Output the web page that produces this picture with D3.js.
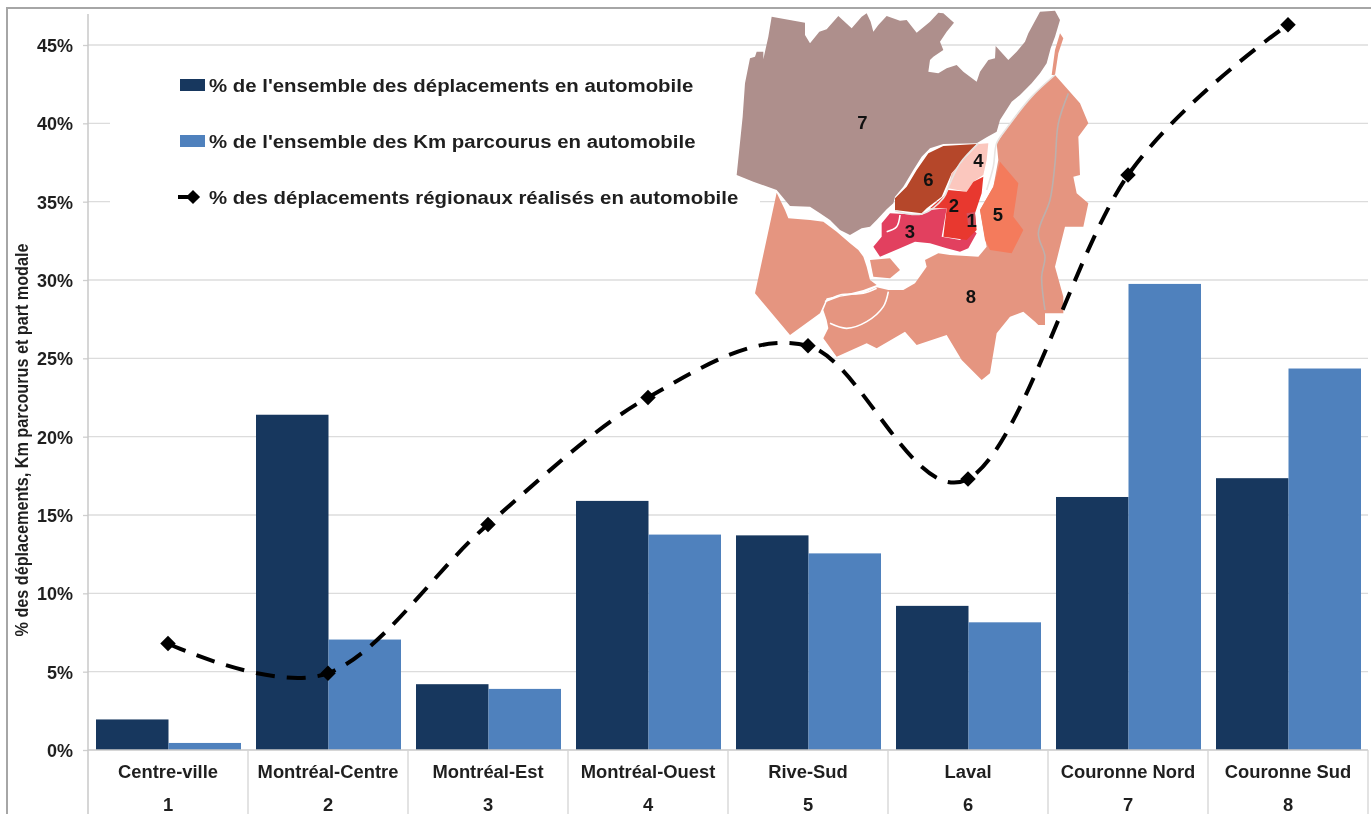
<!DOCTYPE html>
<html>
<head>
<meta charset="utf-8">
<script src="https://cdn.jsdelivr.net/npm/d3@7"></script>
<style>
body { margin: 0; background: #fff; }
svg { display: block; filter: blur(0.45px); }
text { font-family: "Liberation Sans", Arial, sans-serif; font-weight: bold; fill: #1f1f1f; }
</style>
</head>
<body>
<script>
var categories = ['Centre-ville', 'Montréal-Centre', 'Montréal-Est', 'Montréal-Ouest', 'Rive-Sud', 'Laval', 'Couronne Nord', 'Couronne Sud'];
var numbers = ['1', '2', '3', '4', '5', '6', '7', '8'];
var deplacements = [1.95, 21.4, 4.2, 15.9, 13.7, 9.2, 16.15, 17.35];
var kmParcourus = [0.45, 7.05, 3.9, 13.75, 12.55, 8.15, 29.75, 24.35];
var partRegionale = [6.8, 4.9, 14.4, 22.5, 25.8, 17.3, 36.7, 46.3];
var yTicks = [0, 5, 10, 15, 20, 25, 30, 35, 40, 45];
var legendLabels = ["% de l'ensemble des déplacements en automobile", "% de l'ensemble des Km parcourus en automobile", '% des déplacements régionaux réalisés en automobile'];

// map outlines, in map units
var region7 = [[125,50],[225,68],[225,105],[240,130],[268,95],[290,88],[325,48],[365,85],[395,50],[410,40],[422,65],[430,95],[445,75],[470,48],[510,62],[530,60],[560,98],[600,65],[625,38],[640,40],[672,68],[650,95],[630,125],[640,150],[610,170],[600,180],[595,215],[625,220],[650,205],[680,195],[700,215],[740,245],[750,215],[775,180],[795,175],[797,138],[835,180],[860,155],[885,125],[895,100],[930,35],[975,32],[990,60],[975,110],[962,145],[950,190],[930,220],[905,250],[870,285],[845,305],[810,360],[800,395],[770,412],[740,430],[640,432],[600,445],[575,470],[550,510],[520,560],[495,590],[490,610],[470,628],[440,660],[420,680],[395,685],[360,705],[330,690],[300,660],[270,640],[240,620],[180,618],[165,600],[140,570],[70,545],[20,525],[38,350],[45,250],[60,175],[75,170],[80,155],[100,155],[100,178],[115,110]];
var region8West = [[140,578],[165,630],[175,655],[240,660],[280,665],[320,695],[360,730],[385,750],[400,770],[410,800],[420,840],[440,855],[400,870],[340,885],[290,895],[270,940],[180,1005],[75,880]];
var region8Island = [[420,780],[480,775],[510,810],[480,835],[430,830]];
var region8South = [[975,225],[940,255],[905,290],[870,330],[830,385],[800,430],[805,480],[790,560],[750,630],[770,740],[745,770],[660,765],[625,760],[585,780],[590,800],[555,850],[520,870],[475,870],[440,862],[400,880],[330,890],[290,905],[280,930],[290,960],[295,985],[280,1015],[320,1070],[410,1030],[440,1045],[525,995],[560,1035],[650,1005],[695,1080],[755,1140],[780,1120],[800,1000],[840,950],[880,935],[915,965],[925,975],[945,975],[945,940],[1000,940],[1000,890],[975,800],[1005,680],[1060,680],[1075,610],[1040,580],[1030,530],[1050,525],[1045,410],[1075,370],[1050,310]];
var region8Strip = [[990,100],[1000,115],[985,160],[975,225],[965,225],[975,150]];
var region5 = [[810,485],[865,550],[850,650],[880,690],[845,760],[780,750],[765,720],[750,630],[790,560]];
var region6 = [[640,438],[740,432],[700,480],[665,520],[635,590],[590,625],[575,640],[495,630],[495,595],[530,560],[560,510],[595,460]];
var region4 = [[745,432],[775,430],[770,480],[760,525],[730,545],[710,575],[655,565],[665,520],[700,480]];
var region3 = [[480,640],[575,645],[600,630],[650,625],[635,710],[690,720],[730,690],[740,700],[715,745],[690,755],[650,745],[600,730],[555,725],[510,745],[450,770],[430,740],[455,710],[455,670]];
var region2 = [[655,570],[710,575],[730,545],[760,530],[755,580],[735,640],[740,690],[710,720],[640,710],[650,625],[600,625],[640,590]];
var region1 = [[710,640],[735,635],[738,680],[715,680]];
var riverEast = [[1015,280],[985,370],[975,490],[960,600],[925,700],[945,770],[935,830],[945,930]];
var riverSouth = [[300,970],[350,985],[410,965],[460,920],[475,875]];
var riverIsland = [[285,905],[330,885],[400,880],[440,865]];
var riverNorth = [[975,225],[905,290],[830,385],[800,430],[790,500],[770,570]];
var riverLaval = [[495,632],[575,642],[640,595],[660,550],[690,490],[745,430]];
var riverPerrot = [[510,645],[500,680],[470,695]];
var mapRegions = [region8West, region8Island, region8South, region8Strip, region7, region5, region6, region4, region3, region2, region1];
var mapColors = ['#e59580', '#e59580', '#e59580', '#e59580', '#ae8f8c', '#f47b5c', '#b5472a', '#fbc7be', '#e2405f', '#e8382f', '#d2535f'];
var mapRivers = [riverEast, riverSouth, riverIsland, riverNorth, riverLaval, riverPerrot];
var riverColors = ['#bdb0ac', '#fff', '#fff', '#e8e4e2', '#e8e4e2', '#fff'];
var mapLabels = [[725, 660, '1'], [672, 617, '2'], [540, 695, '3'], [745, 482, '4'], [804, 642, '5'], [595, 538, '6'], [397, 367, '7'], [723, 890, '8']];

var width = 1371,
    height = 814;

var svg = d3.select('body')
    .append('svg')
    .attr('width', width)
    .attr('height', height);

var x = d3.scaleBand()
    .domain(categories)
    .range([88, 1368]);

var xBar = d3.scaleBand()
    .domain([0, 1])
    .range([8, 153]);

var y = d3.scaleLinear()
    .domain([0, 45])
    .range([750, 45]);

// the source picture is stretched sideways a little, so text is too
function placeText(selection, sx, fx, fy) {
    selection.attr('transform', function(d, i) {
        return 'translate(' + fx(d, i) + ',' + fy(d, i) + ') scale(' + sx + ',1)';
    });
}

// page frame
svg.append('path')
    .attr('d', 'M7,814V8H1371')
    .style('fill', 'none')
    .style('stroke', '#a6a6a6')
    .style('stroke-width', 2);

// gridlines
svg.append('g')
    .selectAll('line')
    .data(yTicks.slice(1))
    .enter()
    .append('line')
    .attr('x1', 88).attr('x2', 1368)
    .attr('y1', d => y(d)).attr('y2', d => y(d))
    .style('stroke', '#dcdcdc')
    .style('stroke-width', 1.3);

// legend box hides the grid behind it
svg.append('rect')
    .attr('x', 110).attr('y', 60)
    .attr('width', 650).attr('height', 155)
    .style('fill', '#fff');

var yAxis = svg.append('g')
    .attr('transform', 'translate(88,0)')
    .call(d3.axisLeft(y).tickValues(yTicks).tickFormat(d => d + '%').tickSize(5));

yAxis.select('.domain').remove();
yAxis.selectAll('line').style('stroke', '#cfcfcf').style('stroke-width', 1.3);
yAxis.selectAll('text')
    .attr('x', null)
    .attr('dy', null)
    .call(placeText, 1.03, () => -15, () => 6.5)
    .style('font-size', '17.5px')
    .style('font-family', null);

svg.append('line')
    .attr('x1', 88).attr('x2', 88)
    .attr('y1', 14).attr('y2', height)
    .style('stroke', '#c8c8c8')
    .style('stroke-width', 1.5);

// map, sits over the gridlines
var mapX = d3.scaleLinear().domain([0, 3]).range([730, 731]);
var mapY = d3.scaleLinear().domain([0, 3]).range([0, 1]);
var mapLine = d3.line().x(d => mapX(d[0])).y(d => mapY(d[1]));

var map = svg.append('g').attr('class', 'map');

map.selectAll('path.region')
    .data(mapRegions)
    .enter()
    .append('path')
    .attr('class', 'region')
    .attr('d', d => mapLine(d) + 'Z')
    .style('fill', (d, i) => mapColors[i]);

map.selectAll('path.river')
    .data(mapRivers)
    .enter()
    .append('path')
    .attr('class', 'river')
    .attr('d', d3.line().x(d => mapX(d[0])).y(d => mapY(d[1])).curve(d3.curveCatmullRom))
    .style('fill', 'none')
    .style('stroke', (d, i) => riverColors[i])
    .style('stroke-width', 1.6);

map.selectAll('text')
    .data(mapLabels)
    .enter()
    .append('text')
    .call(placeText, 1, d => mapX(d[0]), d => mapY(d[1]) + 6.5)
    .attr('text-anchor', 'middle')
    .style('font-size', '18.5px')
    .style('fill', '#111')
    .text(d => d[2]);

// bars
var groups = svg.append('g')
    .selectAll('g')
    .data(categories)
    .enter()
    .append('g')
    .attr('transform', d => 'translate(' + x(d) + ',0)');

groups.append('rect')
    .attr('x', xBar(0))
    .attr('width', xBar.bandwidth())
    .attr('y', (d, i) => y(deplacements[i]))
    .attr('height', (d, i) => y(0) - y(deplacements[i]))
    .style('fill', '#17375e');

groups.append('rect')
    .attr('x', xBar(1))
    .attr('width', xBar.bandwidth())
    .attr('y', (d, i) => y(kmParcourus[i]))
    .attr('height', (d, i) => y(0) - y(kmParcourus[i]))
    .style('fill', '#4f81bd');

// category axis, two rows
svg.append('line')
    .attr('x1', 88).attr('x2', 1368)
    .attr('y1', y(0)).attr('y2', y(0))
    .style('stroke', '#c8c8c8')
    .style('stroke-width', 1.5);

svg.append('g')
    .selectAll('line')
    .data(categories)
    .enter()
    .append('line')
    .attr('x1', d => x(d) + x.bandwidth())
    .attr('x2', d => x(d) + x.bandwidth())
    .attr('y1', y(0)).attr('y2', height)
    .style('stroke', '#d4d4d4')
    .style('stroke-width', 1.3);

svg.append('g')
    .selectAll('text')
    .data(categories)
    .enter()
    .append('text')
    .call(placeText, 1.05, d => x(d) + x.bandwidth() / 2, () => 778)
    .attr('text-anchor', 'middle')
    .style('font-size', '17.5px')
    .text(d => d);

svg.append('g')
    .selectAll('text')
    .data(categories)
    .enter()
    .append('text')
    .call(placeText, 1.05, d => x(d) + x.bandwidth() / 2, () => 810.5)
    .attr('text-anchor', 'middle')
    .style('font-size', '17.5px')
    .text((d, i) => numbers[i]);

// smoothed dashed line
var lineGen = d3.line()
    .x((d, i) => x(categories[i]) + x.bandwidth() / 2)
    .y(d => y(d))
    .curve(d3.curveCatmullRom.alpha(0));

svg.append('path')
    .datum(partRegionale)
    .attr('d', lineGen)
    .style('fill', 'none')
    .style('stroke', '#000')
    .style('stroke-width', 4)
    .style('stroke-dasharray', '19 12');

svg.append('g')
    .selectAll('path')
    .data(partRegionale)
    .enter()
    .append('path')
    .attr('d', d3.symbol(d3.symbolSquare, 120))
    .attr('transform', (d, i) => 'translate(' + (x(categories[i]) + x.bandwidth() / 2) + ',' + y(d) + ') rotate(45)')
    .style('fill', '#000');

// y title, same sideways stretch shows as glyph height here
svg.append('text')
    .attr('transform', 'translate(28,440) rotate(-90) scale(1,1.15)')
    .attr('text-anchor', 'middle')
    .style('font-size', '16.2px')
    .text('% des déplacements, Km parcourus et part modale');

// legend
var legend = svg.append('g')
    .selectAll('g')
    .data(legendLabels)
    .enter()
    .append('g')
    .attr('transform', (d, i) => 'translate(180,' + [85, 141, 197][i] + ')');

legend.append('text')
    .call(placeText, 1.074, () => 29, () => 6.5)
    .style('font-size', '19px')
    .text(d => d);

legend.filter((d, i) => i < 2)
    .append('rect')
    .attr('y', -6)
    .attr('width', 25)
    .attr('height', 12)
    .style('fill', (d, i) => i === 0 ? '#17375e' : '#4f81bd');

var lineKey = legend.filter((d, i) => i === 2);

lineKey.append('line')
    .attr('x1', -2).attr('x2', 14)
    .style('stroke', '#000')
    .style('stroke-width', 4);

lineKey.append('path')
    .attr('d', d3.symbol(d3.symbolSquare, 100))
    .attr('transform', 'translate(13,0) rotate(45)')
    .style('fill', '#000');
</script>
</body>
</html>
